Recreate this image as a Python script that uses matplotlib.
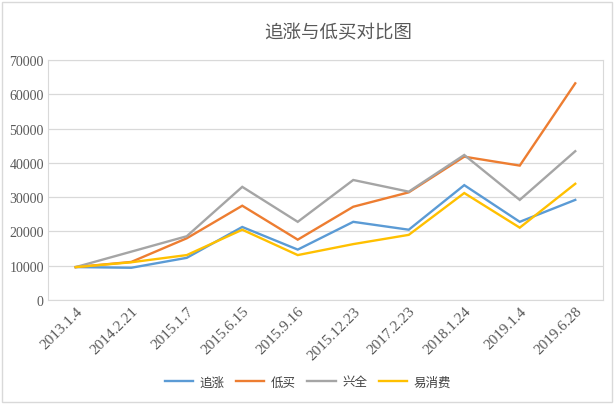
import matplotlib.pyplot as plt
from matplotlib.patches import Rectangle

plt.rcParams['font.family'] = ['Noto Sans CJK SC', 'DejaVu Sans']

dates = ['2013.1.4', '2014.2.21', '2015.1.7', '2015.6.15', '2015.9.16',
         '2015.12.23', '2017.2.23', '2018.1.24', '2019.1.4', '2019.6.28']
zhuizhang = [9600, 9400, 12300, 21300, 14700, 22800, 20500, 33500, 22800, 29200]
dimai = [9600, 11100, 18000, 27500, 17600, 27200, 31400, 41800, 39200, 63200]
xingquan = [9600, 14100, 18600, 33000, 22800, 35000, 31600, 42300, 29200, 43400]
yixiaofei = [9600, 11000, 13100, 20500, 13100, 16300, 19000, 31200, 21100, 33900]

series = [('追涨', zhuizhang, '#5B9BD5'),
          ('低买', dimai, '#ED7D31'),
          ('兴全', xingquan, '#A5A5A5'),
          ('易消费', yixiaofei, '#FFC000')]

fig = plt.figure(figsize=(6.16, 4.06), dpi=100)
ax = fig.add_axes([48/616, 105/406, 555/616, 240/406])

x = range(len(dates))
for name, vals, c in series:
    ax.plot(x, vals, color=c, lw=1.7, label=name, solid_joinstyle='miter')

ax.set_xlim(-0.5, len(dates) - 0.5)
ax.set_ylim(0, 70000)
ax.set_yticks(range(0, 70001, 10000))
ax.grid(axis='y', color='#d9d9d9', lw=0.9)
ax.set_axisbelow(True)
for s in ax.spines.values():
    s.set_color('#d9d9d9')
ax.tick_params(length=0, colors='#595959', pad=3)
ax.set_xticks(list(x))
ax.set_xticklabels(dates, rotation=45, ha='right', rotation_mode='anchor',
                   family='Liberation Serif', fontsize=11)
for t in ax.get_yticklabels():
    t.set_family('Liberation Serif')
    t.set_fontsize(10)

fig.text(338/616, 1 - 33/406, '追涨与低买对比图', ha='center', va='center',
         fontsize=13.3, color='#595959')

fig.legend(loc='center', bbox_to_anchor=(308/616, 1 - 383/406), ncol=4,
           frameon=False, fontsize=9, handlelength=2.25, columnspacing=0.9,
           handletextpad=0.55, labelcolor='#404040')

fig.patches.append(Rectangle((2/616, 3/406), 610/616, 400/406, transform=fig.transFigure,
                             fill=False, edgecolor='#d9d9d9', lw=1))

fig.savefig('out.png', dpi=100)
